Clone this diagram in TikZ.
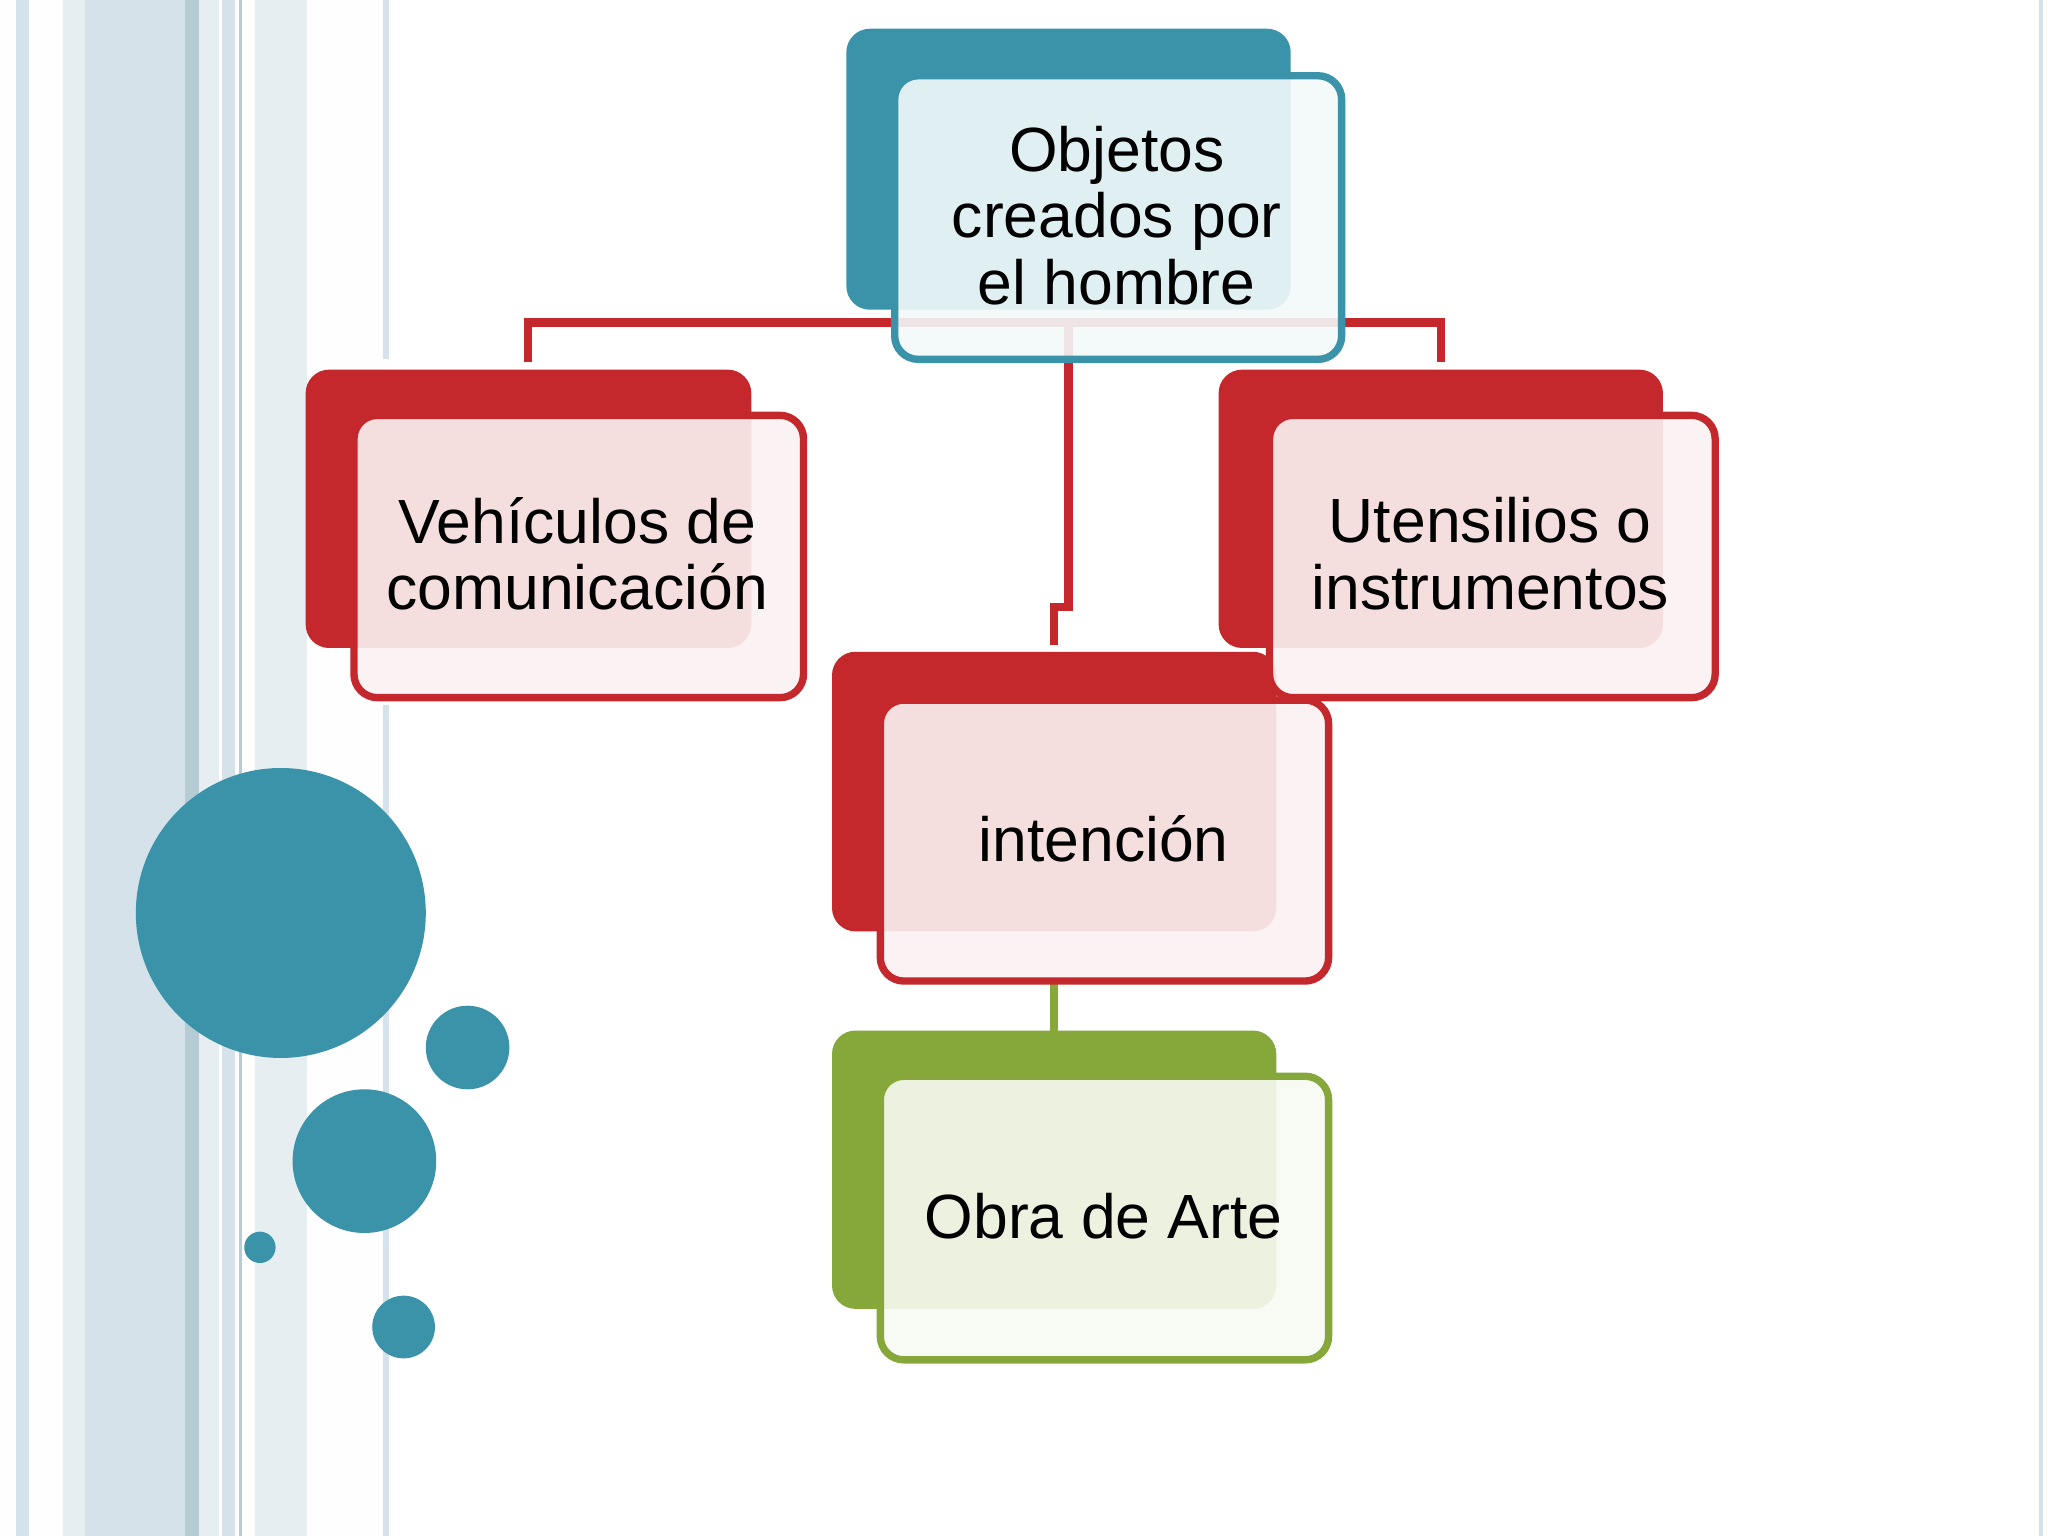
\documentclass[tikz,border=0pt]{standalone}
\usepackage{fontspec}
\setmainfont{Liberation Sans}
\definecolor{teal}{HTML}{3A93A8}
\definecolor{red1}{HTML}{C4282D}
\definecolor{grn}{HTML}{86A83A}
\definecolor{stripeA}{HTML}{D5E2E9}
\definecolor{stripeB}{HTML}{B5CCD4}
\definecolor{stripeC}{HTML}{E6EEF2}
\begin{document}
\begin{tikzpicture}[x=0.01cm,y=-0.01cm,
  back/.style={rounded corners=0.18cm,anchor=north west,inner sep=0pt,outer sep=0pt},
  front/.style={rounded corners=0.18cm,anchor=north west,inner sep=0pt,outer sep=0pt,line width=1.6pt,fill opacity=0.9},
  conn/.style={line width=1.8pt}]
\useasboundingbox (0,0) rectangle (1568,1176);
\fill[white!97!stripeA] (0,0) rectangle (1568,1176);
% stripes
\fill[stripeA] (12,0) rectangle (22,1176);
\fill[stripeC] (48,0) rectangle (65,1176);
\fill[stripeA] (65,0) rectangle (142,1176);
\fill[stripeB] (142,0) rectangle (152,1176);
\fill[stripeC] (152,0) rectangle (168,1176);
\fill[stripeA] (170,0) rectangle (180,1176);
\fill[stripeB] (183,0) rectangle (185,1176);
\fill[stripeC] (195,0) rectangle (222,1176);
\fill[stripeA!60] (222,0) rectangle (235,1176);
\fill[stripeA] (293,0) rectangle (298,275);
\fill[stripeA] (293,540) rectangle (298,1176);
\fill[stripeA] (1561,0) rectangle (1564,1176);
\fill[white] (298,0) rectangle (1561,1176);
% circles
\fill[teal] (215,699) circle (111);
\fill[teal] (358,802) circle (32);
\fill[teal] (279,889) circle (55);
\fill[teal] (199,955) circle (12);
\fill[teal] (309,1016) circle (24);
\coordinate (tl) at (404,247); \coordinate (tr) at (1103,247);
\coordinate (mj) at (818,465); \coordinate (mk) at (807,465);
% boxes
\node[back,fill=teal,minimum width=3.4cm,minimum height=2.15cm] (b0) at (648,22) {};
\node[back,fill=red1,minimum width=3.41cm,minimum height=2.13cm] (b1) at (234,283) {};
\node[back,fill=red1,minimum width=3.4cm,minimum height=2.13cm] (b2) at (933,283) {};
\node[back,fill=red1,minimum width=3.4cm,minimum height=2.14cm] (b3) at (637,499) {};
\node[back,fill=grn,minimum width=3.4cm,minimum height=2.13cm] (b4) at (637,789) {};
\draw[red1,conn] (404,277) |- (tl) -- (tr) -- (1103,277);
\draw[red1,conn] (818,247) -- (mj) -- (mk) -- (807,494);
\draw[grn,conn] (807,752) -- (807,789);
\node[front,draw=teal,fill=teal!6,minimum width=3.42cm,minimum height=2.17cm] (f0) at (685,58) {};
\node[front,draw=red1,fill=red1!6,minimum width=3.44cm,minimum height=2.16cm] (f1) at (271,318) {};
\node[front,draw=red1,fill=red1!6,minimum width=3.41cm,minimum height=2.16cm] (f2) at (972,318) {};
\node[front,draw=red1,fill=red1!6,minimum width=3.43cm,minimum height=2.15cm] (f3) at (674,536) {};
\node[front,draw=grn,fill=grn!6,minimum width=3.43cm,minimum height=2.17cm] (f4) at (674,824) {};
\begin{scope}[every node/.style={align=center,font=\fontsize{13.6}{14.5}\selectfont}]
\node (t0) at (855,165) {Objetos\\creados por\\el hombre};
\node (t1) at (442,424) {Vehículos de\\comunicación};
\node (t2) at (1141,424) {Utensilios o\\instrumentos};
\node (t3) at (845,642) {intención};
\node (t4) at (845,931) {Obra de Arte};
\end{scope}
\end{tikzpicture}
\end{document}
